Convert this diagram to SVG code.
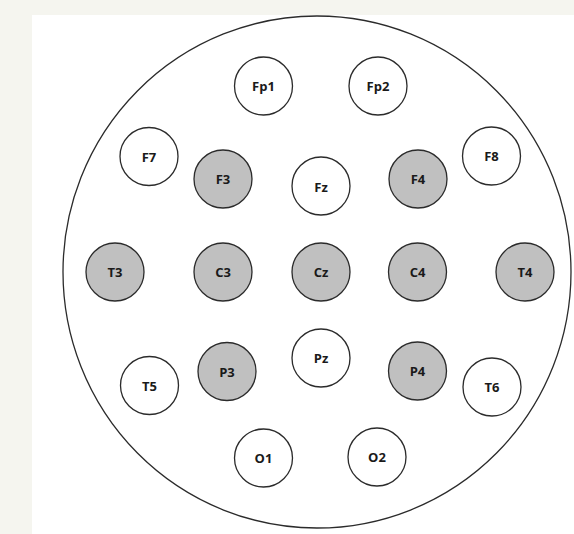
<svg xmlns="http://www.w3.org/2000/svg" width="574" height="534" viewBox="0 0 574 534">
<style>
.e{stroke:#2b2b2b;stroke-width:1.3;fill:#fff}
.g{fill:#c0c0c0}
.t{font-family:"Open Sans","Liberation Sans",sans-serif;font-weight:bold;font-size:13px;fill:#1a1a1a;text-anchor:middle;dominant-baseline:central}
</style>
<rect width="574" height="534" fill="#f5f5ef"/>
<rect x="32" y="15" width="542" height="519" fill="#fff"/>
<g id="head"><ellipse cx="317" cy="272" rx="254" ry="256" fill="none" stroke="#2b2b2b" stroke-width="1.3"/></g>
<g id="connectors"></g>
<g id="Fp1"><circle class="e" cx="263.5" cy="86" r="29"/><text class="t" x="263.5" y="86">Fp1</text></g>
<g id="Fp2"><circle class="e" cx="378" cy="86" r="29"/><text class="t" x="378" y="86">Fp2</text></g>
<g id="F7"><circle class="e" cx="149" cy="156.5" r="29"/><text class="t" x="149" y="156.5">F7</text></g>
<g id="F3"><circle class="e g" cx="223" cy="179" r="29"/><text class="t" x="223" y="179">F3</text></g>
<g id="Fz"><circle class="e" cx="321" cy="186" r="29"/><text class="t" x="321" y="187">Fz</text></g>
<g id="F4"><circle class="e g" cx="418" cy="179" r="29"/><text class="t" x="418" y="179">F4</text></g>
<g id="F8"><circle class="e" cx="491.5" cy="156" r="29"/><text class="t" x="491.5" y="156">F8</text></g>
<g id="T3"><circle class="e g" cx="115" cy="272" r="29"/><text class="t" x="115" y="272">T3</text></g>
<g id="C3"><circle class="e g" cx="223" cy="272" r="29"/><text class="t" x="223" y="272">C3</text></g>
<g id="Cz"><circle class="e g" cx="321" cy="272" r="29"/><text class="t" x="321" y="272">Cz</text></g>
<g id="C4"><circle class="e g" cx="417.5" cy="272" r="29"/><text class="t" x="417.5" y="272">C4</text></g>
<g id="T4"><circle class="e g" cx="525" cy="272" r="29"/><text class="t" x="525" y="272">T4</text></g>
<g id="Pz"><circle class="e" cx="321" cy="358" r="29"/><text class="t" x="321" y="358">Pz</text></g>
<g id="P3"><circle class="e g" cx="227" cy="371.5" r="29"/><text class="t" x="227" y="371.5">P3</text></g>
<g id="P4"><circle class="e g" cx="417.5" cy="371" r="29"/><text class="t" x="417.5" y="371">P4</text></g>
<g id="T5"><circle class="e" cx="149.5" cy="385.5" r="29"/><text class="t" x="149.5" y="386">T5</text></g>
<g id="T6"><circle class="e" cx="492" cy="387" r="29"/><text class="t" x="492" y="387">T6</text></g>
<g id="O1"><circle class="e" cx="263.5" cy="458" r="29"/><text class="t" x="263.5" y="458">O1</text></g>
<g id="O2"><circle class="e" cx="377" cy="457" r="29"/><text class="t" x="377" y="457">O2</text></g>
</svg>
